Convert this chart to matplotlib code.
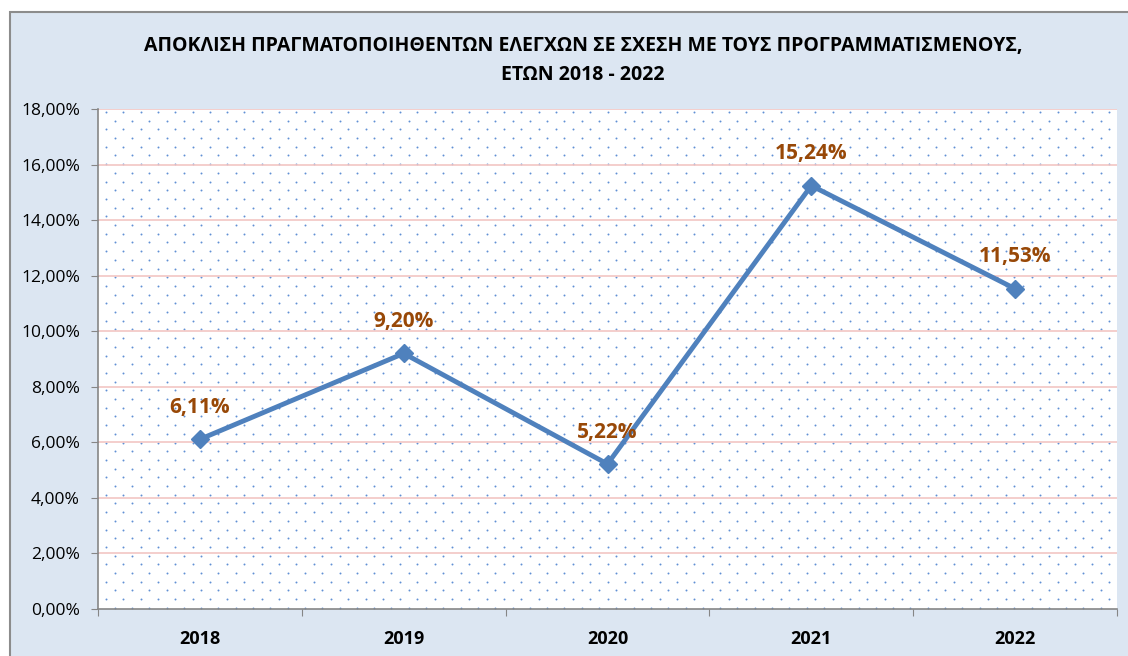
import matplotlib.pyplot as plt
import numpy as np
from matplotlib.patches import Rectangle

# Data
years = ["2018", "2019", "2020", "2021", "2022"]
deviation = [6.11, 9.20, 5.22, 15.24, 11.53]
y_ticks = [0, 2, 4, 6, 8, 10, 12, 14, 16, 18]

title = ("ΑΠΟΚΛΙΣΗ ΠΡΑΓΜΑΤΟΠΟΙΗΘΕΝΤΩΝ ΕΛΕΓΧΩΝ ΣΕ ΣΧΕΣΗ ΜΕ ΤΟΥΣ ΠΡΟΓΡΑΜΜΑΤΙΣΜΕΝΟΥΣ,\n"
         "ΕΤΩΝ 2018 - 2022")

plt.rcParams['font.family'] = ['Open Sans', 'DejaVu Sans']

W, H = 1128, 656
fig = plt.figure(figsize=(W / 100, H / 100), dpi=100, facecolor="white")

# outer chart frame
fig.patches.append(Rectangle((10 / W, -0.01), 1.0, (H - 12) / H + 0.01,
                             transform=fig.transFigure, facecolor="#dce6f2",
                             edgecolor="#8c8c8c", linewidth=1.5, zorder=-10))

left, right, top, bottom = 98, 1117, 109, 609
ax = fig.add_axes([left / W, 1 - bottom / H, (right - left) / W, (bottom - top) / H])
ax.set_facecolor("white")
ax.set_zorder(5)

# dotted fill pattern (staggered dots)
pw, ph = right - left, bottom - top
dx, dy = 17.3, 8.7
pts = []
for r, yy in enumerate(np.arange(ph - 3, 0, -dy)):
    off = 0 if r % 2 == 0 else dx / 2
    for xx in np.arange(8 + off, pw, dx):
        pts.append((xx / pw, yy / ph))
pts = np.array(pts)
ax.scatter(pts[:, 0], pts[:, 1], s=2.0, color="#6190d4", linewidths=0,
           transform=ax.transAxes, zorder=1)

x = np.arange(len(years))
ax.set_xlim(-0.5, len(years) - 0.5)
ax.set_ylim(0, 18)

for t in y_ticks[1:]:
    ax.axhline(t, color="#f2c6c4", linewidth=1.2, zorder=1.5)

ax.plot(x, deviation, color="#4f81bd", linewidth=3.5, marker="D", markersize=9,
        zorder=3)

for xi, v in zip(x, deviation):
    ax.annotate(f"{v:.2f}%".replace(".", ","), (xi, v), xytext=(0, 23),
                textcoords="offset points", ha="center", va="center",
                color="#984807", fontsize=15, fontweight="bold", zorder=4)

ax.set_yticks(y_ticks)
ax.set_yticklabels([f"{t:.2f}%".replace(".", ",") for t in y_ticks], fontsize=12.5)
ax.set_xticks(np.arange(-0.5, len(years), 1.0))
ax.set_xticklabels([])
ax.set_xticks(x, minor=True)
ax.set_xticklabels(years, minor=True, fontsize=13, fontweight="bold")
ax.tick_params(axis="x", which="minor", length=0, pad=15)
ax.tick_params(axis="x", which="major", length=5, color="#868686")
ax.tick_params(axis="y", length=5, color="#868686", pad=8)

for s in ["top", "right"]:
    ax.spines[s].set_visible(False)
for s in ["left", "bottom"]:
    ax.spines[s].set_color("#868686")
    ax.spines[s].set_linewidth(1.2)

fig.text(583 / W, 1 - 60 / H, title, ha="center", va="center", fontsize=14,
         fontweight="bold", linespacing=1.6)

fig.savefig("out.png", dpi=100)
